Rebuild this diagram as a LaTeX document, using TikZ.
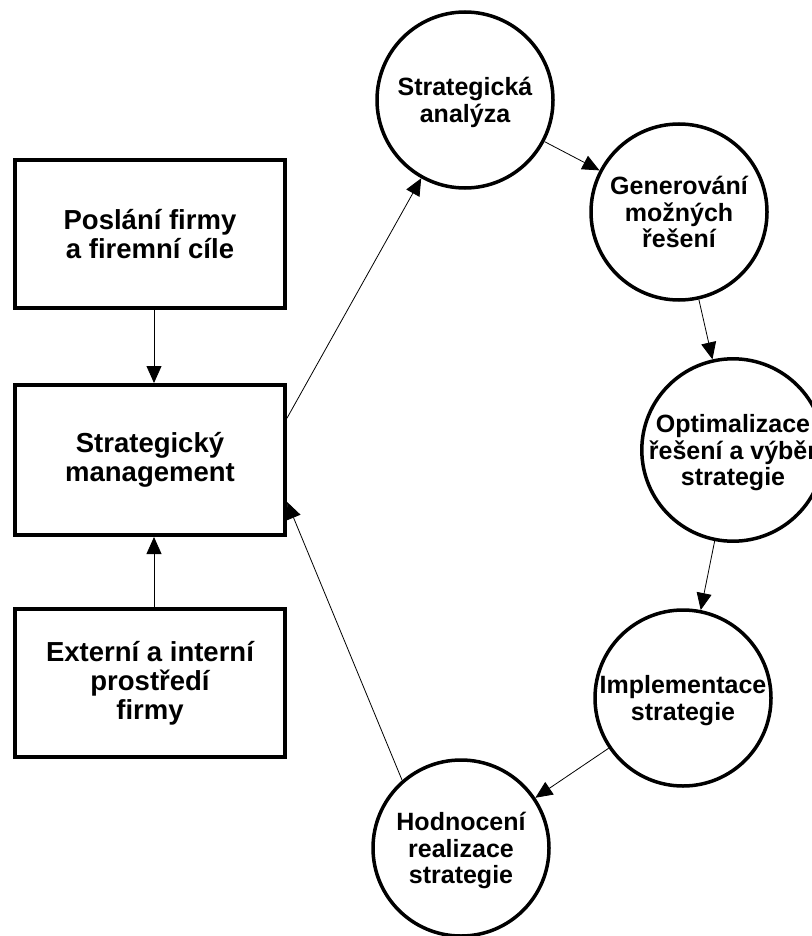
\documentclass[tikz,border=0pt]{standalone}
\usepackage{fontspec}
\setmainfont{Liberation Sans}
\usepackage{tikz}
\usetikzlibrary{arrows.meta}

\tikzset{
  box/.style={draw, line width=4pt, minimum width=270pt, minimum height=148pt,
    inner sep=0pt, align=center, font=\fontsize{27.5}{29}\selectfont\bfseries},
  krok/.style={draw, circle, line width=3.5pt, minimum size=176pt, inner sep=0pt,
    text depth=-9pt, align=center, font=\fontsize{25}{26.7}\selectfont\bfseries},
  sipka/.style={line width=0.8pt, -{Triangle[length=17pt,width=15pt]}}
}

\begin{document}
\begin{tikzpicture}[x=1pt,y=1pt,yscale=-1,xscale=1]
\useasboundingbox (0,0) rectangle (811,936);

\draw (150,234) node [box] (poslani) {Posl\'{a}n\'{i} firmy\\a firemn\'{i} c\'{i}le};
\draw (150,460) node [box, minimum height=150pt] (management) {Strategick\'{y}\\management};
\draw (150,683) node [box] (prostredi) {Extern\'{i} a intern\'{i}\\prost\v{r}ed\'{i}\\firmy};

\draw (465,100) node [krok] (analyza) {Strategick\'{a}\\anal\'{y}za};
\draw (679,212) node [krok] (generovani) {Generov\'{a}n\'{i}\\mo\v{z}n\'{y}ch\\\v{r}e\v{s}en\'{i}};
\draw (733,450) node [krok] (optimalizace) {Optimalizace\\\v{r}e\v{s}en\'{i} a v\'{y}b\v{e}r\\strategie};
\draw (683,698) node [krok] (implementace) {Implementace\\strategie};
\draw (461,848) node [krok] (hodnoceni) {Hodnocen\'{i}\\realizace\\strategie};

\draw [sipka] ([xshift=4pt]poslani.south) -- ([xshift=4pt]management.north);
\draw [sipka] ([xshift=4pt]prostredi.north) -- ([xshift=4pt]management.south);

\draw [sipka] (management.17) -- (analyza);
\draw [sipka] (analyza) -- (generovani);
\draw [sipka] (generovani) -- (optimalizace);
\draw [sipka] (optimalizace) -- (implementace);
\draw [sipka] (implementace) -- (hodnoceni);
\draw [sipka] (hodnoceni.131) -- (management.-17);
\end{tikzpicture}
\end{document}
